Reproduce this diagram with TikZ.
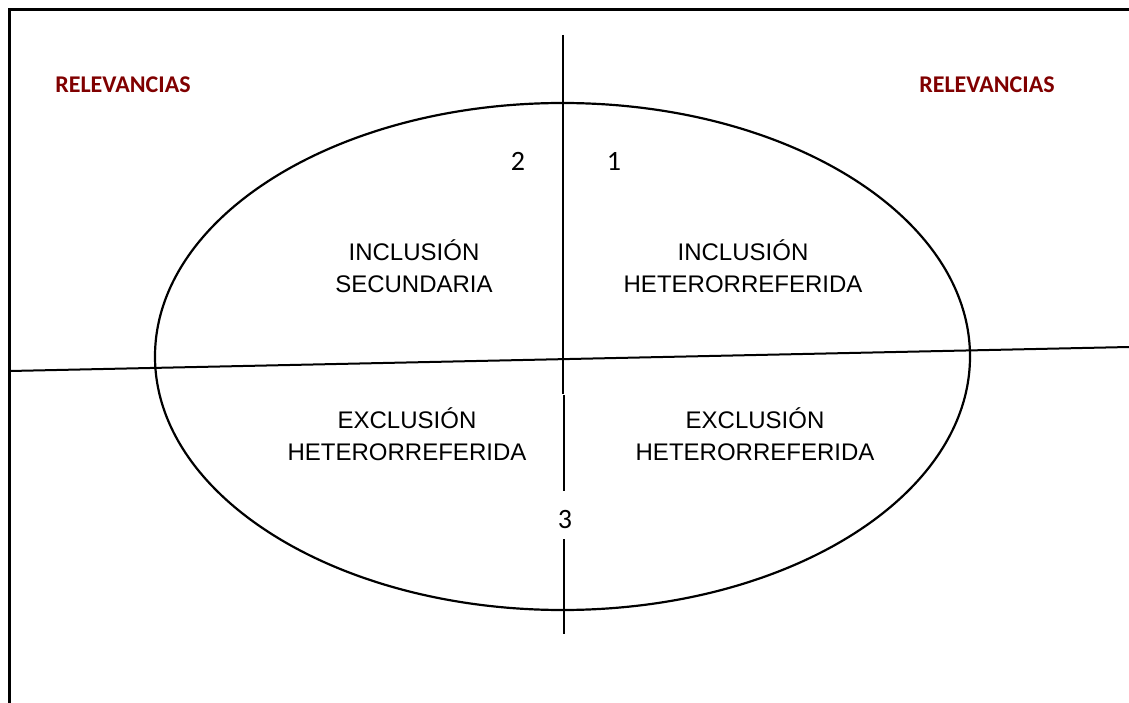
\documentclass[tikz,border=0pt]{standalone}
\usepackage{fontspec}
\setmainfont{Liberation Sans}
\newfontfamily\calib{Carlito}
\usetikzlibrary{shapes.geometric}
\definecolor{relred}{RGB}{128,0,0}
\begin{document}
\begin{tikzpicture}[x=1pt,y=-1pt,
  quad/.style={align=center,font=\fontsize{24}{32}\selectfont,inner sep=0pt},
  num/.style={font=\calib\fontsize{28}{30}\selectfont,inner sep=0pt},
  rel/.style={font=\calib\bfseries\fontsize{24}{26}\selectfont,text=relred,inner sep=0pt},
  axis/.style={line width=2pt}]
\useasboundingbox (0,0) rectangle (1129,703);
\draw[line width=3pt] (9,703) -- (9,10) -- (1129,10);
\node[ellipse,draw,line width=2.2pt,minimum width=815pt,minimum height=507pt,inner sep=0pt] (ell) at (562.5,356.5) {};
\coordinate (vtop) at (563,35);
\coordinate (vmid) at (563,394);
\coordinate (vmid2) at (564,395);
\coordinate (vlow) at (564,491);
\coordinate (vb1) at (564,539);
\coordinate (vb2) at (564,634);
\coordinate (hl) at (10,371);
\coordinate (hr) at (1129,347);
\draw[axis] (vtop) -- (vmid);
\draw[axis] (vmid2) -- (vlow);
\draw[axis] (vb1) -- (vb2);
\draw[axis] (hl) -- (hr);
\node[rel] (r1) at (123,85) {RELEVANCIAS};
\node[rel] (r2) at (987,85) {RELEVANCIAS};
\node[num] (n2) at (518,161) {2};
\node[num] (n1) at (614,161) {1};
\node[num] (n3) at (565,520) {3};
\node[quad] (q2) at (414,266) {INCLUSIÓN\\SECUNDARIA};
\node[quad] (q1) at (743,266) {INCLUSIÓN\\HETERORREFERIDA};
\node[quad] (q3) at (407,434) {EXCLUSIÓN\\HETERORREFERIDA};
\node[quad] (q4) at (755,434) {EXCLUSIÓN\\HETERORREFERIDA};
\end{tikzpicture}
\end{document}
